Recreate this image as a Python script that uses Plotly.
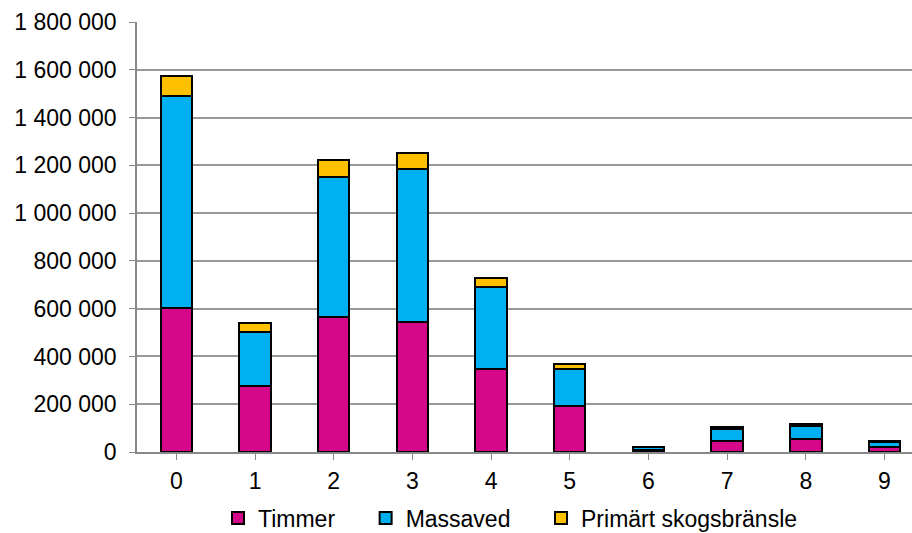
import plotly.graph_objects as go

categories = ["0", "1", "2", "3", "4", "5", "6", "7", "8", "9"]
timmer = [603000, 276000, 565000, 544000, 346000, 193000, 8000, 47000, 53000, 22000]
massaved = [887000, 226000, 587000, 639000, 346000, 154000, 12000, 51000, 57000, 19000]
primart = [85000, 38000, 69000, 69000, 38000, 23000, 3000, 5000, 7000, 6000]
y_ticks = [0, 200000, 400000, 600000, 800000, 1000000, 1200000, 1400000, 1600000, 1800000]
y_labels = ["0", "200 000", "400 000", "600 000", "800 000", "1 000 000",
            "1 200 000", "1 400 000", "1 600 000", "1 800 000"]
series_names = ["Timmer", "Massaved", "Primärt skogsbränsle"]
series_colors = ["#d6088a", "#00b0f0", "#ffc000"]
series_values = [timmer, massaved, primart]

pad = "\u00a0\u00a0\u00a0\u00a0"

fig = go.Figure()
for i, (name, vals, col) in enumerate(zip(series_names, series_values, series_colors)):
    label = name + (pad if i < len(series_names) - 1 else "")
    fig.add_trace(go.Bar(x=list(range(len(categories))), y=vals, name=label,
                         marker=dict(color=col, line=dict(color="black", width=2)),
                         width=0.4))

fig.update_layout(
    barmode="stack",
    width=912, height=533,
    margin=dict(l=137, r=0, t=22, b=81, autoexpand=False),
    paper_bgcolor="white", plot_bgcolor="white",
    font=dict(family="Liberation Sans, Arial, sans-serif", size=23, color="black"),
    showlegend=True,
    legend=dict(orientation="h", x=0.1045, xanchor="left",
                yref="container", y=0.028, yanchor="middle",
                font=dict(size=23), traceorder="normal", itemwidth=30),
    xaxis=dict(range=[-0.5, 9.35], tickmode="array",
               tickvals=list(range(len(categories))), ticktext=categories,
               showline=True, linecolor="#888888", linewidth=1.5,
               ticks="outside", tickson="boundaries", ticklen=6, tickcolor="#888888",
               ticklabelstandoff=2,
               showgrid=False, zeroline=False),
    yaxis=dict(range=[0, 1800000], tickmode="array", tickvals=y_ticks, ticktext=y_labels,
               showline=True, linecolor="#888888", linewidth=1.5,
               ticks="outside", ticklen=6, tickcolor="#888888",
               ticklabelstandoff=8,
               showgrid=True, gridcolor="#999999", gridwidth=1.5, zeroline=False),
)

fig.write_html("out.html")
